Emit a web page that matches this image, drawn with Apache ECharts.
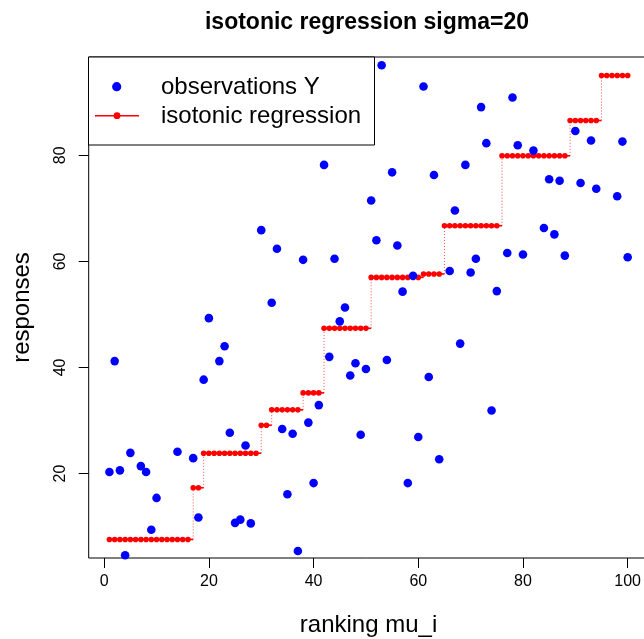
<!DOCTYPE html>
<html><head><meta charset="utf-8">
<script src="https://cdn.jsdelivr.net/npm/echarts@6/dist/echarts.min.js"></script>
<style>html,body{margin:0;padding:0;background:#fff}#c{width:644px;height:639px}</style>
</head><body><div id="c"></div>
<script>
// ranking mu_i (x positions)
const ranks = [1,2,3,4,5,6,7,8,9,10,11,12,13,14,15,16,17,18,19,20,
  21,22,23,24,25,26,27,28,29,30,31,32,33,34,35,36,37,38,39,40,
  41,42,43,44,45,46,47,48,49,50,51,52,53,54,55,56,57,58,59,60,
  61,62,63,64,65,66,67,68,69,70,71,72,73,74,75,76,77,78,79,80,
  81,82,83,84,85,86,87,88,89,90,91,92,93,94,95,96,97,98,99,100];
// observations Y (values outside the plotted range are estimated; they are clipped as in the original)
const observations = [20.3,41.2,20.6,4.6,23.9,-5.2,21.4,20.3,9.4,15.4,
  -18.4,-3.1,-22.7,24.1,-9.8,-20.4,22.9,11.7,37.7,49.3,
  3.8,41.2,44.0,27.7,10.7,11.3,25.3,10.6,0.5,65.9,
  -7.7,52.2,62.4,28.4,16.1,27.5,5.4,60.3,29.6,18.2,
  32.9,78.2,42.0,60.5,48.7,51.3,38.5,40.8,27.3,39.7,
  71.5,64.0,97.0,41.4,76.8,63.0,54.3,18.2,57.3,26.9,
  93.0,38.2,76.3,22.7,107.4,58.2,69.6,44.5,78.2,57.9,
  60.5,89.1,82.3,31.9,54.4,101.5,61.6,90.9,81.9,61.3,
  112.3,80.9,105.4,66.3,75.5,65.1,75.2,61.1,100.9,84.6,
  74.8,102.6,82.8,73.7,121.4,109.8,123.4,72.3,82.6,60.8];
// isotonic regression fitted values
const isoFit = [7.57,7.57,7.57,7.57,7.57,7.57,7.57,7.57,7.57,7.57,
  7.57,7.57,7.57,7.57,7.57,7.57,17.31,17.31,23.83,23.83,
  23.83,23.83,23.83,23.83,23.83,23.83,23.83,23.83,23.83,29.11,
  29.11,32.01,32.01,32.01,32.01,32.01,32.01,35.21,35.21,35.21,
  35.21,47.38,47.38,47.38,47.38,47.38,47.38,47.38,47.38,47.38,
  56.99,56.99,56.99,56.99,56.99,56.99,56.99,56.99,56.99,56.99,
  57.63,57.63,57.63,57.63,66.73,66.73,66.73,66.73,66.73,66.73,
  66.73,66.73,66.73,66.73,66.73,79.92,79.92,79.92,79.92,79.92,
  79.92,79.92,79.92,79.92,79.92,79.92,79.92,79.92,86.57,86.57,
  86.57,86.57,86.57,86.57,95.05,95.05,95.05,95.05,95.05,95.05];
const xTicks = [0,20,40,60,80,100];
const yTicks = [20,40,60,80];
const titleText = 'isotonic regression sigma=20';
const xLabel = 'ranking mu_i';
const yLabel = 'responses';
const legendLabels = ['observations Y', 'isotonic regression'];

const FONT = 'Liberation Sans, Arial, sans-serif';
const xMinD = Math.min(...ranks), xMaxD = Math.max(...ranks);
const yMinD = Math.min(...isoFit), yMaxD = Math.max(...isoFit);
const xPad = 0.04 * (xMaxD - xMinD), yPad = 0.04 * (yMaxD - yMinD);

const obsData = ranks.map((r, i) => [r, observations[i]]);
const fitData = ranks.map((r, i) => [r, isoFit[i]]);
const stepData = ranks.map((r, i) => i < ranks.length - 1
  ? [r, isoFit[i], ranks[i + 1], isoFit[i + 1]]
  : [r, isoFit[i], r, isoFit[i]]);

const chart = echarts.init(document.getElementById('c'));
chart.setOption({
  animation: false,
  backgroundColor: '#fff',
  title: {
    text: titleText, left: 362, top: 6, textAlign: 'center',
    textStyle: {fontFamily: FONT, fontSize: 23, fontWeight: 'bold', color: '#000'}
  },
  grid: {left: 88.7, top: 57, width: 559.7, height: 501, show: true,
    outerBoundsMode: 'none', containLabel: false,
    borderColor: '#000', borderWidth: 1, backgroundColor: 'transparent'},
  xAxis: {
    type: 'value', min: xMinD - xPad, max: xMaxD + xPad,
    name: xLabel, nameLocation: 'middle', nameGap: 55,
    nameTextStyle: {fontFamily: FONT, fontSize: 24, color: '#000'},
    axisLine: {show: false, onZero: false},
    axisTick: {show: true, length: 10, customValues: xTicks, lineStyle: {color: '#000'}},
    axisLabel: {customValues: xTicks, margin: 16, fontFamily: FONT, fontSize: 16, color: '#000'},
    splitLine: {show: false}
  },
  yAxis: {
    type: 'value', min: yMinD - yPad, max: yMaxD + yPad,
    name: yLabel, nameLocation: 'middle', nameGap: 54,
    nameTextStyle: {fontFamily: FONT, fontSize: 24, color: '#000'},
    axisLine: {show: false, onZero: false},
    axisTick: {show: true, length: 10, customValues: yTicks, lineStyle: {color: '#000'}},
    axisLabel: {customValues: yTicks, rotate: 90, margin: 20, fontFamily: FONT, fontSize: 16, color: '#000'},
    splitLine: {show: false}
  },
  series: [
    {
      type: 'custom', name: legendLabels[1], clip: true, z: 1,
      data: stepData, encode: {x: [0, 2], y: [1, 3]},
      renderItem: function (params, api) {
        const x0 = api.value(0), y0 = api.value(1), x1 = api.value(2), y1 = api.value(3);
        if (x1 === x0) return {type: 'group', children: []};
        const p0 = api.coord([x0, y0]);
        const p1 = api.coord([x1, y0]);
        const p2 = api.coord([x1, y1]);
        const children = [{
          type: 'line', shape: {x1: p0[0], y1: p0[1], x2: p1[0], y2: p1[1]},
          style: {stroke: '#ff0000', lineWidth: 1.6}
        }];
        if (y1 !== y0) {
          children.push({
            type: 'line', shape: {x1: p1[0], y1: p1[1], x2: p2[0], y2: p2[1]},
            style: {stroke: 'rgba(255,0,0,0.7)', lineWidth: 1, lineDash: [1, 2]}
          });
        }
        return {type: 'group', children: children};
      }
    },
    {
      type: 'scatter', name: legendLabels[1], data: fitData, z: 2,
      symbol: 'circle', symbolSize: 5.6, itemStyle: {color: '#ff0000', opacity: 1}, clip: true
    },
    {
      type: 'scatter', name: legendLabels[0], data: obsData, z: 3,
      symbol: 'circle', symbolSize: 8.6, itemStyle: {color: '#0000ff', opacity: 1}, clip: true
    }
  ],
  graphic: [
    {type: 'rect', z: 100, shape: {x: 88.5, y: 57, width: 286, height: 88},
      style: {fill: '#fff', stroke: '#000', lineWidth: 1}},
    {type: 'circle', z: 101, shape: {cx: 116.7, cy: 86.7, r: 4.6}, style: {fill: '#0000ff'}},
    {type: 'line', z: 101, shape: {x1: 95, y1: 115.7, x2: 139, y2: 115.7},
      style: {stroke: '#ff0000', lineWidth: 1.6}},
    {type: 'circle', z: 102, shape: {cx: 117, cy: 115.7, r: 3.4}, style: {fill: '#ff0000'}},
    {type: 'text', z: 101, x: 161, y: 87.5,
      style: {text: legendLabels[0], font: '24px ' + FONT, fill: '#000', textVerticalAlign: 'middle', verticalAlign: 'middle'}},
    {type: 'text', z: 101, x: 161, y: 116.5,
      style: {text: legendLabels[1], font: '24px ' + FONT, fill: '#000', textVerticalAlign: 'middle', verticalAlign: 'middle'}}
  ]
});
</script></body></html>
